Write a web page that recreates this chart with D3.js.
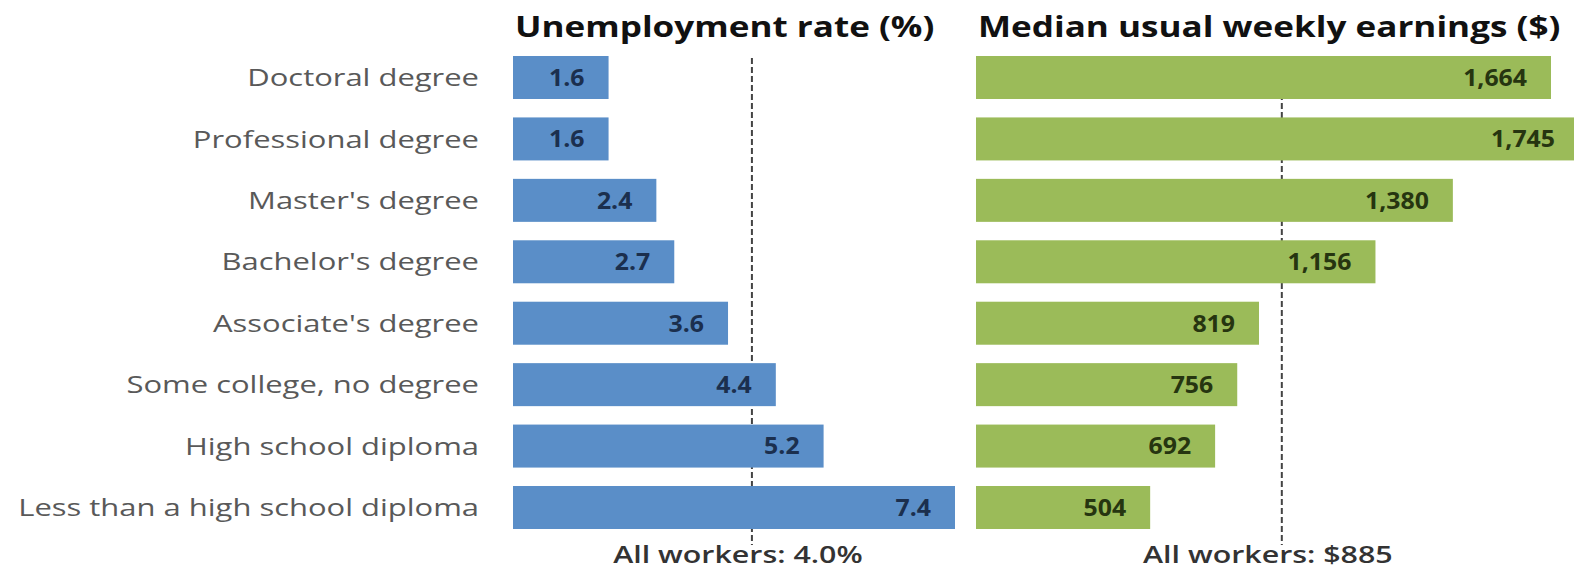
<!DOCTYPE html>
<html>
<head>
<meta charset="utf-8">
<script src="https://cdn.jsdelivr.net/npm/d3@7"></script>
<style>
  html, body { margin: 0; padding: 0; background: #fff; }
  svg { display: block; }
</style>
</head>
<body>
<script>
var
  categories = [
    'Doctoral degree',
    'Professional degree',
    "Master's degree",
    "Bachelor's degree",
    "Associate's degree",
    'Some college, no degree',
    'High school diploma',
    'Less than a high school diploma'
  ],
  unemployment = [1.6, 1.6, 2.4, 2.7, 3.6, 4.4, 5.2, 7.4],
  earnings = [1664, 1745, 1380, 1156, 819, 756, 692, 504],
  unemploymentAll = 4.0,
  earningsAll = 885,
  titles = ['Unemployment rate (%)', 'Median usual weekly earnings ($)'],
  allLabels = ['All workers: 4.0%', 'All workers: $885'],

  config = {
    w: 1574,
    h: 572,
    top: 56,
    bottom: 529,
    font: '"Open Sans", "DejaVu Sans", sans-serif'
  },

  svg = d3.select('body').append('svg')
    .attr('width', config.w)
    .attr('height', config.h),

  y = d3.scaleBand()
    .domain(categories)
    .range([config.top, config.bottom])
    .paddingInner(0.3)
    .paddingOuter(0),

  // the source image is stretched sideways, so texts get a horizontal scale
  stretchText = function stretchText(sel, x, yFn, sx) {
    sel.attr('transform', function (d, i) {
      return 'translate(' + [typeof x === 'function' ? x(d, i) : x,
        typeof yFn === 'function' ? yFn(d, i) : yFn].join(',') + ') scale(' + sx + ',1)';
    });
  },

  drawPanel = function drawPanel(opts) {
    var
      x = d3.scaleLinear().domain([0, opts.max]).range([opts.x0, opts.x1]),
      g = svg.append('g'),
      avgX = x(opts.avg),
      title,
      vals,
      all;

    title = g.append('text')
      .attr('font-family', config.font)
      .attr('font-weight', 'bold')
      .attr('font-size', 29)
      .attr('fill', '#111')
      .text(opts.title);
    stretchText(title, opts.x0 + 2, 37, 1.21);

    // dashed average line sits behind bars
    g.append('line')
      .attr('x1', avgX).attr('x2', avgX)
      .attr('y1', opts.lineTop).attr('y2', 545)
      .attr('stroke', '#444')
      .attr('stroke-width', 2)
      .attr('stroke-dasharray', '6,3');

    g.selectAll('rect.bar')
      .data(opts.values)
      .enter().append('rect')
      .attr('class', 'bar')
      .attr('x', x(0))
      .attr('y', function (d, i) { return y(categories[i]); })
      .attr('width', function (d) { return x(d) - x(0); })
      .attr('height', y.bandwidth())
      .attr('fill', opts.color);

    vals = g.selectAll('text.val')
      .data(opts.values)
      .enter().append('text')
      .attr('class', 'val')
      .attr('dy', '0.36em')
      .attr('text-anchor', 'end')
      .attr('font-family', config.font)
      .attr('font-weight', 'bold')
      .attr('font-size', 23)
      .attr('fill', opts.textColor)
      .text(opts.format);
    stretchText(vals,
      function (d) { return x(d) - 24; },
      function (d, i) { return y(categories[i]) + y.bandwidth() / 2; },
      1.08);

    all = g.append('text')
      .attr('text-anchor', 'middle')
      .attr('font-family', config.font)
      .attr('font-weight', 600)
      .attr('font-size', 23)
      .attr('fill', '#333')
      .text(opts.allLabel);
    stretchText(all, avgX - 14, 563, 1.32);
  },

  cats;

// category labels
cats = svg.selectAll('text.cat')
  .data(categories)
  .enter().append('text')
  .attr('class', 'cat')
  .attr('dy', '0.36em')
  .attr('text-anchor', 'end')
  .attr('font-family', config.font)
  .attr('font-size', 24)
  .attr('fill', '#595959')
  .text(function (d) { return d; });
stretchText(cats, 479, function (d) { return y(d) + y.bandwidth() / 2; }, 1.29);

drawPanel({
  values: unemployment,
  max: 7.4,
  avg: unemploymentAll,
  x0: 513,
  x1: 955,
  color: '#5a8ec8',
  textColor: '#1b2f4e',
  title: titles[0],
  allLabel: allLabels[0],
  lineTop: 58,
  format: function (d) { return d.toFixed(1); }
});

drawPanel({
  values: earnings,
  max: 1664,
  avg: earningsAll,
  x0: 976,
  x1: 1551,
  color: '#9bbb59',
  textColor: '#263510',
  title: titles[1],
  allLabel: allLabels[1],
  lineTop: 58,
  format: d3.format(',')
});
</script>
</body>
</html>
